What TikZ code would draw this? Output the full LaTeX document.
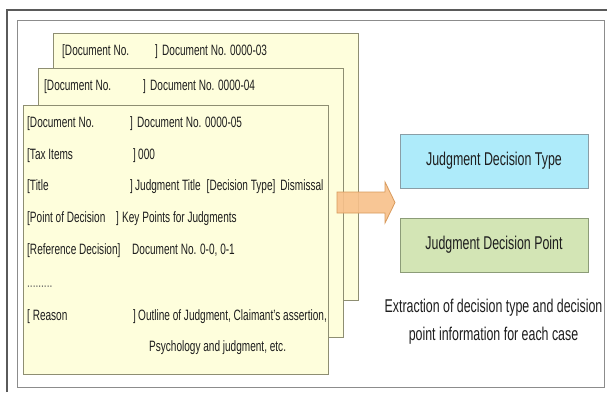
\documentclass[tikz,border=0pt]{standalone}
\usepackage{fontspec}
\setmainfont[FakeStretch=0.67]{Liberation Sans}
\usetikzlibrary{shadows}

\definecolor{cardfill}{HTML}{FEFEDC}
\definecolor{cardline}{HTML}{8E8E72}
\definecolor{typefill}{HTML}{AEEBFA}
\definecolor{typeline}{HTML}{8A9EA6}
\definecolor{pointfill}{HTML}{D3E5B5}
\definecolor{pointline}{HTML}{8C9C78}
\definecolor{arrowfill}{HTML}{F8C08A}
\definecolor{arrowline}{HTML}{D89A5C}
\definecolor{ink}{HTML}{1E1E1E}
\definecolor{frameout}{HTML}{5A5A5A}
\definecolor{framein}{HTML}{8C8C8C}

\begin{document}
\begin{tikzpicture}[x=1pt,y=-1pt,
  card/.style={draw=cardline, fill=cardfill, line width=0.8pt,
    drop shadow={shadow xshift=1pt, shadow yshift=-1pt, opacity=0.35},
    minimum width=305pt, inner sep=0pt},
  ctext/.style={anchor=base west, inner sep=0pt, text=ink,
    font=\fontsize{15}{17}\selectfont},
  resbox/.style={line width=0.8pt, minimum width=188pt, minimum height=54pt,
    inner sep=0pt, text=ink, font=\fontsize{18.5}{21}\selectfont,
    drop shadow={shadow xshift=1pt, shadow yshift=-1pt, opacity=0.3}},
]
\useasboundingbox (0,0) rectangle (607,392);
\fill[white] (0,0) rectangle (607,392);

% frames
\draw[frameout, line width=1.2pt] (7,392) -- (7,10) -- (607,10);
\draw[framein, line width=1pt] (17,20) rectangle (604,387);

% stacked case cards
\node[card, minimum height=267pt] (c1) at (205.5,166.5) {};
\node[ctext] (c1a) at (62,55.5) {[Document No.};
\node[ctext] (c1b) at (155,55.5) {]};
\node[ctext] (c1c) at (162,55.5) {Document No. 0000-03};

\node[card, minimum height=269pt] (c2) at (190.5,202.5) {};
\node[ctext] (c2a) at (44,90.5) {[Document No.};
\node[ctext] (c2b) at (143,90.5) {]};
\node[ctext] (c2c) at (150,90.5) {Document No. 0000-04};

\node[card, minimum height=269pt] (c3) at (175.5,239.5) {};
\node[ctext] (r1a) at (27,127.5) {[Document No.};
\node[ctext] (r1b) at (130,127.5) {]};
\node[ctext] (r1c) at (137,127.5) {Document No. 0000-05};

\node[ctext] (r2a) at (27,159.5) {[Tax Items};
\node[ctext] (r2b) at (133,159.5) {]};
\node[ctext] (r2c) at (138,159.5) {000};

\node[ctext] (r3a) at (27,190.5) {[Title};
\node[ctext] (r3b) at (130,190.5) {]};
\node[ctext] (r3c) at (135,190.5) {Judgment Title\hspace{6pt}[Decision Type]\hspace{5pt}Dismissal};

\node[ctext] (r4a) at (27,222.5) {[Point of Decision};
\node[ctext] (r4b) at (116,222.5) {]};
\node[ctext] (r4c) at (122,222.5) {Key Points for Judgments};

\node[ctext] (r5a) at (27,254.5) {[Reference Decision]};
\node[ctext] (r5c) at (132,254.5) {Document No. 0-0, 0-1};

\node[ctext, text=ink!70] (r6) at (27,287) {.........};

\node[ctext] (r7a) at (27,320.5) {[ Reason};
\node[ctext] (r7b) at (133,320.5) {]};
\node[ctext] (r7c) at (138,320.5) {Outline of Judgment, Claimant's assertion,};
\node[ctext] (r8) at (149,351.5) {Psychology and judgment, etc.};

% block arrow
\filldraw[fill=arrowfill, draw=arrowline, line width=0.8pt, fill opacity=0.9]
  (337,192) -- (385,192) -- (385,182) -- (395,202.5) -- (385,223)
  -- (385,213) -- (337,213) -- cycle;

% extracted information
\node[resbox, fill=typefill, draw=typeline] (type) at (494,161) {Judgment Decision Type};
\node[resbox, fill=pointfill, draw=pointline] (point) at (494,245) {Judgment Decision Point};
\node[align=center, inner sep=0pt, text=ink, font=\fontsize{18.5}{28}\selectfont]
  (cap) at (493.5,322) {Extraction of decision type and decision\\point information for each case};
\end{tikzpicture}
\end{document}
